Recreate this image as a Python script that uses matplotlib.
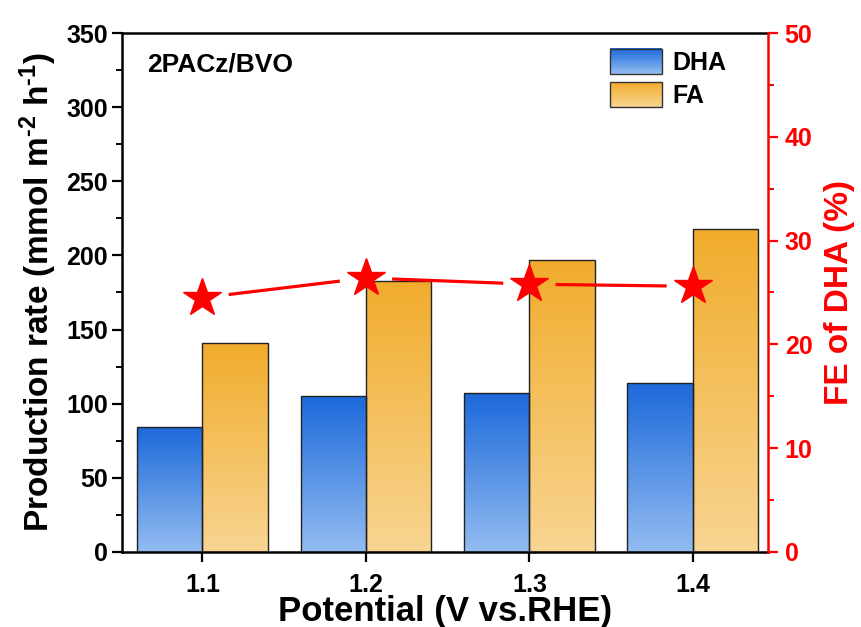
import numpy as np
import matplotlib.pyplot as plt
from matplotlib.patches import Rectangle
from matplotlib.colors import LinearSegmentedColormap
from matplotlib.legend_handler import HandlerBase
from matplotlib.ticker import MultipleLocator

plt.rcParams['font.family'] = ['Liberation Sans', 'DejaVu Sans']
plt.rcParams['font.weight'] = 'bold'
plt.rcParams['axes.labelweight'] = 'bold'
plt.rcParams['mathtext.fontset'] = 'custom'
plt.rcParams['mathtext.rm'] = 'Liberation Sans:bold'
plt.rcParams['mathtext.bf'] = 'Liberation Sans:bold'
plt.rcParams['mathtext.default'] = 'bf'

# data
potential = [1.1, 1.2, 1.3, 1.4]
dha_rate = [84, 105, 107, 114]
fa_rate = [141, 183, 197, 218]
fe_dha = [24.5, 26.4, 25.8, 25.6]

blue_cmap = LinearSegmentedColormap.from_list('blue', ['#93BCF1', '#1C69DA'])
orange_cmap = LinearSegmentedColormap.from_list('orange', ['#F8D592', '#F1AC2C'])
width = 0.04


def gradient_bar(ax, x0, h, cmap):
    rect = Rectangle((x0, 0), width, h, facecolor='none', edgecolor='#222222',
                     linewidth=1.0, zorder=3)
    ax.add_patch(rect)
    grad = np.linspace(0, 1, 256).reshape(-1, 1)
    im = ax.imshow(grad, cmap=cmap, origin='lower', aspect='auto',
                   extent=(x0, x0 + width, 0, h), zorder=2)
    im.set_clip_path(rect)


class GradientHandler(HandlerBase):
    def __init__(self, cmap):
        super().__init__()
        self.cmap = cmap

    def create_artists(self, legend, orig_handle, xdescent, ydescent,
                       width, height, fontsize, trans):
        n = 30
        arts = []
        for i in range(n):
            r = Rectangle((-xdescent, -ydescent + height * i / n), width,
                          height / n + 0.3, facecolor=self.cmap((i + 0.5) / n),
                          edgecolor='none', transform=trans)
            arts.append(r)
        arts.append(Rectangle((-xdescent, -ydescent), width, height,
                              facecolor='none', edgecolor='#333333',
                              linewidth=1.0, transform=trans))
        return arts


fig, ax = plt.subplots(figsize=(8.62, 6.27), dpi=100)
fig.subplots_adjust(left=0.142, right=0.891, top=0.947, bottom=0.12)

for x, d, f in zip(potential, dha_rate, fa_rate):
    gradient_bar(ax, x - width, d, blue_cmap)
    gradient_bar(ax, x, f, orange_cmap)

ax.set_xlim(1.051, 1.446)
ax.set_ylim(0, 350)
ax.set_xticks(potential)
ax.set_xticklabels([f'{p:.1f}' for p in potential])
ax.yaxis.set_major_locator(MultipleLocator(50))
ax.yaxis.set_minor_locator(MultipleLocator(25))
ax.tick_params(axis='both', which='major', direction='out', length=7,
               width=1.6, labelsize=18)
ax.tick_params(axis='x', which='major', pad=8)
ax.tick_params(axis='y', which='minor', direction='out', length=4, width=1.4)
for s in ['left', 'bottom', 'top']:
    ax.spines[s].set_linewidth(1.8)
ax.spines['right'].set_visible(False)

ax.set_xlabel('Potential (V vs.RHE)', fontsize=25, labelpad=-1)
ax.set_ylabel(r'Production rate (mmol m$^{\text{-2}}$ h$^{\text{-1}}$)',
              fontsize=24, labelpad=5)
ax.text(0.038, 0.962, '2PACz/BVO', transform=ax.transAxes, fontsize=19,
        va='top', ha='left')

h1 = Rectangle((0, 0), 1, 1)
h2 = Rectangle((0, 0), 1, 1)
ax.legend([h1, h2], ['DHA', 'FA'], loc='upper left',
          bbox_to_anchor=(0.755, 0.97), frameon=False, fontsize=18,
          borderpad=0, borderaxespad=0,
          handlelength=2.1, handleheight=1.15, handletextpad=0.4,
          labelspacing=0.3,
          handler_map={h1: GradientHandler(blue_cmap),
                       h2: GradientHandler(orange_cmap)})

# FE on the right axis
ax2 = ax.twinx()
ax2.set_ylim(0, 50)
ax2.yaxis.set_major_locator(MultipleLocator(10))
ax2.yaxis.set_minor_locator(MultipleLocator(5))
ax2.tick_params(axis='y', which='major', direction='out', length=7, width=1.6,
                colors='red', labelsize=18, pad=5)
ax2.tick_params(axis='y', which='minor', direction='out', length=4, width=1.4,
                colors='red')
for s in ['left', 'bottom', 'top']:
    ax2.spines[s].set_visible(False)
ax2.spines['right'].set_color('red')
ax2.spines['right'].set_linewidth(1.8)
ax2.set_ylabel('FE of DHA (%)', fontsize=24, color='red', labelpad=8)

# connecting segments with gaps around the markers
gap = 0.16
for i in range(len(potential) - 1):
    x0, x1 = potential[i], potential[i + 1]
    y0, y1 = fe_dha[i], fe_dha[i + 1]
    xs = [x0 + gap * (x1 - x0), x1 - gap * (x1 - x0)]
    ys = [y0 + gap * (y1 - y0), y1 - gap * (y1 - y0)]
    ax2.plot(xs, ys, color='red', linewidth=2.3, solid_capstyle='butt', zorder=4)
ax2.plot(potential, fe_dha, linestyle='none', marker='*', markersize=29,
         color='red', markeredgecolor='red', zorder=5)

fig.savefig('out.png', dpi=100)
